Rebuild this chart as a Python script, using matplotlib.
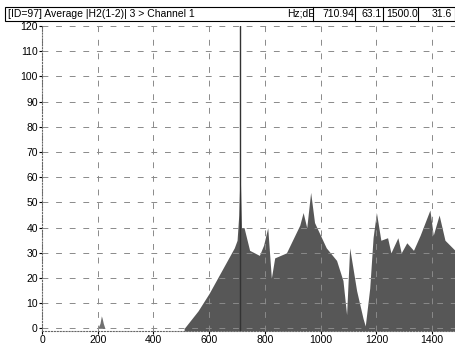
import matplotlib
matplotlib.use("Agg")
import matplotlib.pyplot as plt
from matplotlib.patches import Rectangle
from matplotlib.lines import Line2D
from matplotlib.transforms import Bbox, TransformedBbox

plt.rcParams["font.family"] = ["Liberation Sans", "DejaVu Sans"]

# --- Data (Hz, dB) ---
small_freq = [200, 208, 213, 216, 220, 226]
small_val  = [0, 2, 5, 4, 2, 0]

freq = [510, 560, 600, 650, 690, 700, 706, 711, 716, 725, 745, 780, 795,
        810, 823, 835, 877, 925, 937, 950, 964, 978, 1020, 1057, 1080,
        1093, 1104, 1129, 1152, 1160, 1176, 1188, 1200, 1216, 1240, 1252,
        1277, 1289, 1309, 1333, 1357, 1392, 1404, 1425, 1446, 1482]
level = [0, 7, 14, 24, 32, 35, 45, 63.1, 40, 40, 31, 29, 33,
         40, 20, 28, 30, 41, 46, 40, 54, 42, 32, 27, 19,
         5.5, 32, 15, 4, 1, 16, 36, 46, 35, 36, 30,
         36, 30, 34, 31, 37, 47, 37, 45, 35, 31]

cursor_hz = 710.94
x_ticks = [0, 200, 400, 600, 800, 1000, 1200, 1400]
y_ticks = list(range(0, 121, 10))

W, H = 455, 345
fig = plt.figure(figsize=(W / 100, H / 100), dpi=100)
ax = fig.add_axes([42 / W, 14 / H, 1 - 42 / W, 305 / H])

ax.fill_between(small_freq, 0, small_val, color="#707070", lw=0)
ax.fill_between(freq, -1, level, color="#575757", lw=0)
ax.axvline(cursor_hz, color="#333333", lw=1.0)

ax.set_xlim(0, 1482)
ax.set_ylim(-1, 120)
ax.set_xticks(x_ticks)
ax.set_yticks(y_ticks)
ax.tick_params(labelsize=7.5, length=2, pad=1, direction="out")
ax.grid(True, color="#8a8a8a", ls=(0, (6, 8)), lw=0.7)
for side in ["top", "right"]:
    ax.spines[side].set_visible(False)
for side in ["left", "bottom"]:
    ax.spines[side].set_linestyle(":")
    ax.spines[side].set_color("#666666")

# --- Header bar ---
y0, y1 = 1 - 21 / H, 1 - 7 / H
ym = (y0 + y1) / 2
fig.patches.append(Rectangle((5 / W, y0), 450 / W, y1 - y0,
                             transform=fig.transFigure, fill=False,
                             ec="black", lw=0.8))
for xd in [313, 355, 383, 418]:
    fig.lines.append(Line2D([xd / W, xd / W], [y0, y1], transform=fig.transFigure,
                            color="black", lw=0.8))

fig.text(8 / W, ym, "[ID=97] Average |H2(1-2)| 3 > Channel 1",
         fontsize=7.5, va="center", ha="left")

# (text, left px, cell right px) -- values are clipped by their cell
header_cells = [("Hz;dE", 287, 313), ("710.94", 322, 356), ("63.1", 362, 383),
                ("1500.00", 386, 418), ("31.6", 432, 455)]
for label, xl, xr in header_cells:
    t = fig.text(xl / W, ym, label, fontsize=7.5, va="center", ha="left")
    t.set_clip_box(TransformedBbox(Bbox([[0, y0], [xr / W, y1]]), fig.transFigure))
    t.set_clip_on(True)

fig.savefig("out.png", dpi=100)
